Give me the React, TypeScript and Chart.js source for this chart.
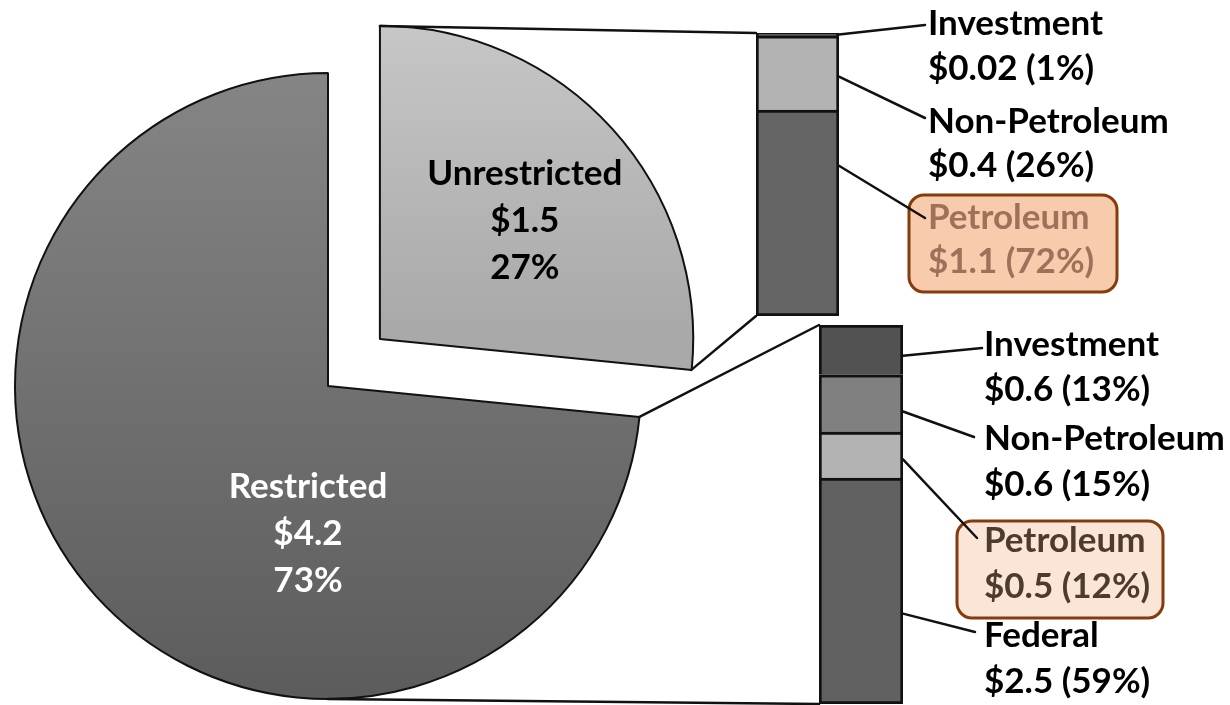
import React, { useEffect, useRef } from "react";
import { Chart, registerables } from "chart.js";

Chart.register(...registerables);

// ---------------- data ----------------
const pieCategories = ["Unrestricted", "Restricted"];
const pieValues = [1.52, 4.2];
const pieAmountLabels = ["$1.5", "$4.2"];
const piePercentLabels = ["27%", "73%"];

// stacked from bottom to top
const unrestrictedCategories = ["Petroleum", "Non-Petroleum", "Investment"];
const unrestrictedShares = [72, 26, 1];
const unrestrictedAmountLabels = ["$1.1", "$0.4", "$0.02"];

const restrictedCategories = ["Federal", "Petroleum", "Non-Petroleum", "Investment"];
const restrictedShares = [59, 12, 15, 13];
const restrictedAmountLabels = ["$2.5", "$0.5", "$0.6", "$0.6"];

// ---------------- styles / layout ----------------
const W = 1230;
const H = 705;
const LABEL_FONT = "Lato, 'Open Sans', 'DejaVu Sans', sans-serif";
const LABEL_SIZE = 35;

const pieStyle = {
  radius: 313,
  padding: { left: 0, right: 574, top: 67, bottom: 0 },
  colors: [
    ["#cbcbcb", "#a9a9a9"],
    ["#858585", "#5c5c5c"],
  ],
  gradientSpan: [
    [-1, 0.12],
    [-1, 1],
  ],
  textColors: ["#000000", "#ffffff"],
  offsets: [280, 0],
  labelAnchors: [
    [0.463, -0.342],
    [-0.064, 0.508],
  ],
  lineGap: 47,
};

const upperBarStyle = {
  padding: { left: 756, right: W - 839, top: 33, bottom: H - 316 },
  colors: ["#646464", "#b3b3b3", "#5a5a5a"],
  textX: 928,
  baselines: [
    [229, 273],
    [133, 177],
    [35, 80],
  ],
  leaderFrom: [0.27, 0.55, 0.5],
  leaderTo: [
    [925, 218],
    [925, 118],
    [925, 25],
  ],
  highlight: { index: 0, box: [909, 195, 1117, 292], fill: "#f8cbad", stroke: "#843c0c", text: "#a0715a" },
};

const lowerBarStyle = {
  padding: { left: 819, right: W - 903, top: 325, bottom: 1 },
  colors: ["#616161", "#b3b3b3", "#808080", "#525252"],
  textX: 984,
  baselines: [
    [647, 693],
    [552, 598],
    [450, 496],
    [356, 401],
  ],
  leaderFrom: [0.6, 0.59, 0.64, 0.62],
  leaderTo: [
    [975, 632],
    [977, 538],
    [974, 437],
    [982, 348],
  ],
  highlight: { index: 1, box: [957, 521, 1163, 618], fill: "#fbe5d6", stroke: "#843c0c", text: "#4e3a2e" },
};

// ---------------- helpers ----------------
function drawText(ctx: CanvasRenderingContext2D, s: string, x: number, y: number, color: string, align: CanvasTextAlign) {
  ctx.save();
  ctx.font = `700 ${LABEL_SIZE}px ${LABEL_FONT}`;
  ctx.fillStyle = color;
  ctx.textAlign = align;
  ctx.textBaseline = "alphabetic";
  ctx.fillText(s, x, y);
  ctx.restore();
}

function line(ctx: CanvasRenderingContext2D, x1: number, y1: number, x2: number, y2: number, w = 2.5) {
  ctx.save();
  ctx.strokeStyle = "#111111";
  ctx.lineWidth = w;
  ctx.lineCap = "round";
  ctx.beginPath();
  ctx.moveTo(x1, y1);
  ctx.lineTo(x2, y2);
  ctx.stroke();
  ctx.restore();
}

function roundBox(ctx: CanvasRenderingContext2D, box: number[], r: number, fill: string, stroke: string) {
  const [x1, y1, x2, y2] = box;
  ctx.save();
  ctx.beginPath();
  ctx.moveTo(x1 + r, y1);
  ctx.lineTo(x2 - r, y1);
  ctx.arcTo(x2, y1, x2, y1 + r, r);
  ctx.lineTo(x2, y2 - r);
  ctx.arcTo(x2, y2, x2 - r, y2, r);
  ctx.lineTo(x1 + r, y2);
  ctx.arcTo(x1, y2, x1, y2 - r, r);
  ctx.lineTo(x1, y1 + r);
  ctx.arcTo(x1, y1, x1 + r, y1, r);
  ctx.closePath();
  ctx.fillStyle = fill;
  ctx.fill();
  ctx.lineWidth = 3;
  ctx.strokeStyle = stroke;
  ctx.stroke();
  ctx.restore();
}

// drawn centre of a (possibly exploded) pie slice; Chart.js shifts by offset/4
function sliceGeometry(arc: any) {
  const p = arc.getProps(["x", "y", "startAngle", "endAngle", "outerRadius"], true);
  const off = (arc.options.offset || 0) / 4;
  const half = (p.startAngle + p.endAngle) / 2;
  return {
    cx: p.x + Math.cos(half) * off,
    cy: p.y + Math.sin(half) * off,
    r: p.outerRadius,
    start: p.startAngle,
    end: p.endAngle,
  };
}

function pointAt(g: any, a: number) {
  return [g.cx + Math.cos(a) * g.r, g.cy + Math.sin(a) * g.r];
}

const pieLabelPlugin = {
  id: "pieLabels",
  afterDatasetsDraw(chart: any) {
    const ctx = chart.ctx;
    const meta = chart.getDatasetMeta(0);
    meta.data.forEach((arc: any, i: number) => {
      const g = sliceGeometry(arc);
      const [fx, fy] = pieStyle.labelAnchors[i];
      const x = g.cx + fx * g.r;
      const y = g.cy + fy * g.r;
      const lines = [pieCategories[i], pieAmountLabels[i], piePercentLabels[i]];
      lines.forEach((s, k) => drawText(ctx, s, x, y + (k - 1) * pieStyle.lineGap, pieStyle.textColors[i], "center"));
    });
  },
};

function makeBarOverlay(
  pieRef: { current: Chart | null },
  sliceIndex: number,
  connectorAngles: (g: any) => number[],
  categories: string[],
  shares: number[],
  amounts: string[],
  style: typeof upperBarStyle
) {
  return {
    id: "barOverlay" + sliceIndex,
    afterDraw(chart: any) {
      const ctx = chart.ctx as CanvasRenderingContext2D;
      const n = categories.length;
      const segs = categories.map((_, d) => chart.getDatasetMeta(d).data[0].getProps(["x", "y", "base", "width"], true));
      const left = segs[0].x - segs[0].width / 2;
      const right = segs[0].x + segs[0].width / 2;
      const top = Math.min(segs[n - 1].y, segs[n - 1].base);
      const bottom = Math.max(segs[0].y, segs[0].base);

      // connectors from pie slice to bar
      const pie = pieRef.current;
      if (pie) {
        const arc = pie.getDatasetMeta(0).data[sliceIndex];
        const g = sliceGeometry(arc);
        const [a1, a2] = connectorAngles(g);
        const p1 = pointAt(g, a1);
        const p2 = pointAt(g, a2);
        line(ctx, p1[0], p1[1], left, top);
        line(ctx, p2[0], p2[1], left, bottom);
      }

      // highlight box
      const hl = style.highlight;
      roundBox(ctx, hl.box, 15, hl.fill, hl.stroke);

      // leaders + labels
      segs.forEach((s: any, i: number) => {
        const sTop = Math.min(s.y, s.base);
        const sBot = Math.max(s.y, s.base);
        const y0 = sTop + style.leaderFrom[i] * (sBot - sTop);
        const [tx, ty] = style.leaderTo[i];
        line(ctx, right, y0, tx, ty);
        const color = i === hl.index ? hl.text : "#000000";
        const [b1, b2] = style.baselines[i];
        drawText(ctx, categories[i], style.textX, b1, color, "left");
        drawText(ctx, `${amounts[i]} (${shares[i]}%)`, style.textX, b2, color, "left");
      });
    },
  };
}

function barConfig(categories: string[], shares: number[], style: typeof upperBarStyle, overlay: any): any {
  const total = shares.reduce((a, b) => a + b, 0);
  return {
    type: "bar",
    data: {
      labels: [""],
      datasets: categories.map((c, i) => ({
        label: c,
        data: [shares[i]],
        backgroundColor: style.colors[i],
        borderColor: "#111111",
        borderWidth: i === 0 ? { top: 3, left: 3, right: 3, bottom: 3 } : { top: 3, left: 3, right: 3, bottom: 0 },
        borderSkipped: false,
        categoryPercentage: 1,
        barPercentage: 1,
      })),
    },
    options: {
      responsive: false,
      maintainAspectRatio: false,
      animation: false,
      events: [],
      layout: { padding: style.padding },
      plugins: { legend: { display: false }, tooltip: { enabled: false } },
      scales: {
        x: { display: false, stacked: true },
        y: { display: false, stacked: true, min: 0, max: total },
      },
    },
    plugins: [overlay],
  };
}

export default function App() {
  const pieCanvas = useRef<HTMLCanvasElement>(null);
  const upperCanvas = useRef<HTMLCanvasElement>(null);
  const lowerCanvas = useRef<HTMLCanvasElement>(null);

  useEffect(() => {
    const pieRef: { current: Chart | null } = { current: null };
    const pie = new Chart(pieCanvas.current as HTMLCanvasElement, {
      type: "pie",
      data: {
        labels: pieCategories,
        datasets: [
          {
            data: pieValues,
            backgroundColor: (c: any) => {
              const i = c.dataIndex;
              const ca = c.chart.chartArea;
              if (!ca) return pieStyle.colors[i][1];
              const cy = (ca.top + ca.bottom) / 2;
              const r = pieStyle.radius;
              const shift = i === 0 ? -47 : 0;
              const [s0, s1] = pieStyle.gradientSpan[i];
              const grad = c.chart.ctx.createLinearGradient(0, cy + shift + s0 * r, 0, cy + shift + s1 * r);
              grad.addColorStop(0, pieStyle.colors[i][0]);
              grad.addColorStop(1, pieStyle.colors[i][1]);
              return grad;
            },
            borderColor: "#111111",
            borderWidth: 2,
            offset: pieStyle.offsets,
            hoverOffset: 0,
            clip: false,
          } as any,
        ],
      },
      options: {
        responsive: false,
        maintainAspectRatio: false,
        animation: false,
        events: [],
        radius: pieStyle.radius,
        layout: { padding: pieStyle.padding },
        plugins: { legend: { display: false }, tooltip: { enabled: false } },
      } as any,
      plugins: [pieLabelPlugin],
    });
    pieRef.current = pie;

    const upper = new Chart(
      upperCanvas.current as HTMLCanvasElement,
      barConfig(
        unrestrictedCategories,
        unrestrictedShares,
        upperBarStyle,
        makeBarOverlay(pieRef, 0, (g) => [g.start, g.end], unrestrictedCategories, unrestrictedShares, unrestrictedAmountLabels, upperBarStyle)
      )
    );
    const lower = new Chart(
      lowerCanvas.current as HTMLCanvasElement,
      barConfig(
        restrictedCategories,
        restrictedShares,
        lowerBarStyle,
        makeBarOverlay(pieRef, 1, (g) => [g.start, Math.PI / 2], restrictedCategories, restrictedShares, restrictedAmountLabels, lowerBarStyle)
      )
    );

    return () => {
      pie.destroy();
      upper.destroy();
      lower.destroy();
    };
  }, []);

  const cs: React.CSSProperties = { position: "absolute", left: 0, top: 0, width: W, height: H };
  return (
    <div style={{ position: "fixed", left: 0, top: 0, width: W, height: H, background: "#ffffff", overflow: "hidden" }}>
      <canvas ref={pieCanvas} width={W} height={H} style={cs} />
      <canvas ref={upperCanvas} width={W} height={H} style={cs} />
      <canvas ref={lowerCanvas} width={W} height={H} style={cs} />
    </div>
  );
}
